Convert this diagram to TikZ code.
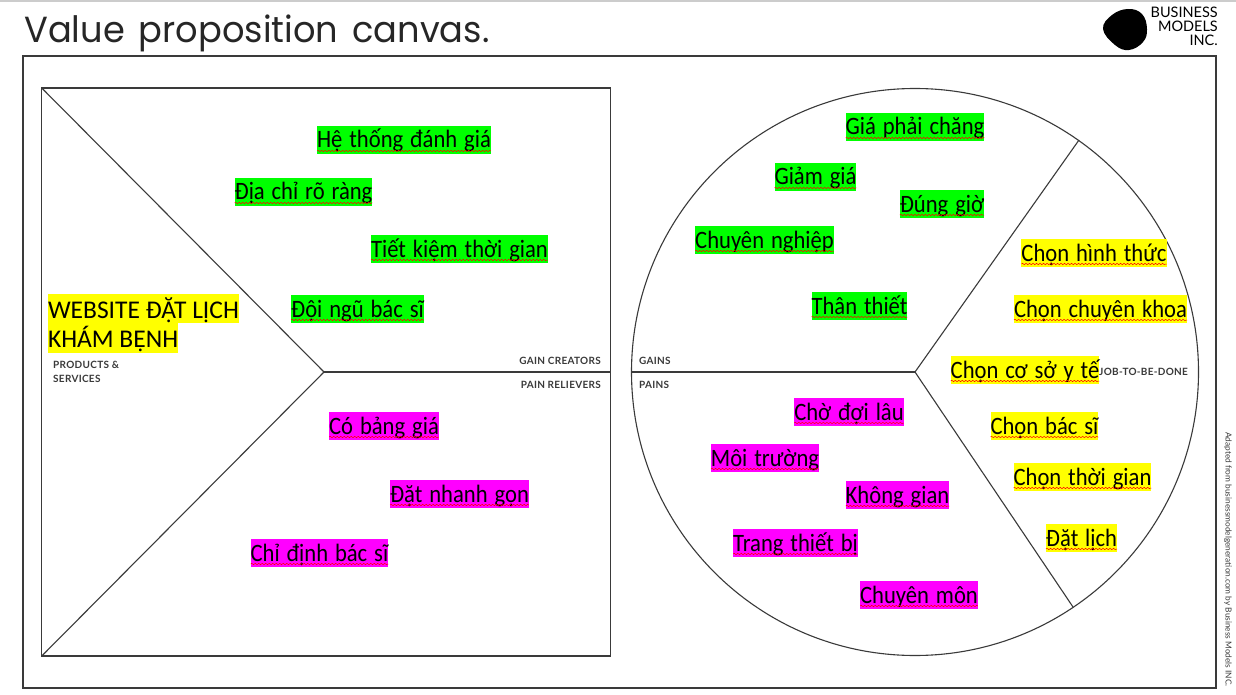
\documentclass[tikz,border=0pt]{standalone}
\usepackage{fontspec}
\setmainfont[FakeStretch=0.905,WordSpace=1.35]{Carlito}
\newfontfamily\bigfont{Carlito}
\newfontfamily\titlefont[FakeStretch=0.97,WordSpace=1.5]{Poppins}
\newfontfamily\labelfont[LetterSpace=3]{Lato}
\newfontfamily\logofont{Lato}
\usetikzlibrary{decorations.pathmorphing}
\definecolor{inkgray}{HTML}{3A3A3A}
\definecolor{painpink}{HTML}{FF00FF}
\definecolor{jobyellow}{HTML}{FFFF00}
\definecolor{gaingreen}{HTML}{00FF00}
\tikzset{
  tag/.style={inner xsep=0pt,inner ysep=0pt,outer sep=0pt,text=black,
    font=\fontsize{25}{25}\selectfont,minimum height=28pt,text height=19.5pt,text depth=3.5pt},
  gaintag/.style={tag,fill=gaingreen},
  paintag/.style={tag,fill=painpink},
  jobtag/.style={tag,fill=jobyellow},
  webtag/.style={inner xsep=0pt,inner ysep=0pt,outer sep=0pt,text=black,fill=jobyellow,anchor=west,
    font=\bigfont\fontsize{25.5}{26}\selectfont,minimum height=29.5pt,text height=23.5pt,text depth=4.5pt},
  caption/.style={inner sep=0pt,text=inkgray,font=\labelfont\bfseries\fontsize{10}{14}\selectfont},
  frameline/.style={draw=inkgray,line width=1.1pt,inner sep=0pt,outer sep=0pt},
  squiggle/.style={draw=red,line width=0.5pt,decorate,
    decoration={snake,amplitude=0.7pt,segment length=3.5pt}}
}
\begin{document}
\begin{tikzpicture}[x=1pt,y=-1pt]
  \useasboundingbox (0,0) rectangle (1236,695);
  \fill[white] (0,0) rectangle (1236,695);
  \fill[black!20] (0,0) rectangle (1236,2);

  % header
  \node[anchor=base west,inner sep=0pt,text=black!85,font=\titlefont\fontsize{36.3}{36}\selectfont] (title) at (24,43) {Value proposition canvas.};
  \fill[black] plot[smooth cycle,tension=0.7] coordinates {(1103,29) (1112,15) (1128,9) (1142,14) (1147,29) (1143,42) (1129,50) (1115,45)};
  \node[anchor=north east,align=right,inner sep=0pt,font=\logofont\fontsize{14.5}{14}\selectfont] (logo) at (1218,7) {BUSINESS\\MODELS\\INC.};
  \node[rotate=-90,anchor=north west,inner sep=0pt,text=inkgray,font=\logofont\fontsize{8.3}{8}\selectfont] (credit) at (1232,432) {Adapted from businessmodelgeneration.com by Business Models INC.};

  % frames
  \node[frameline,minimum width=1193pt,minimum height=632pt] (outer) at (619.5,372) {};
  \node[frameline,minimum width=568.5pt,minimum height=568pt] (square) at (326,372) {};
  \node[frameline,circle,minimum size=567pt] (circ) at (915,372) {};
  \coordinate (hubL) at (324,372);
  \coordinate (hubR) at (915,372);
  \coordinate (armUp) at (1079,140);
  \coordinate (armDown) at (1073,607);

  % arms
  \draw[inkgray,line width=1.1pt] (square.north west) -- (hubL) -- (square.south west);
  \draw[inkgray,line width=1.1pt] (hubL) -- (square.east);
  \draw[inkgray,line width=1.1pt] (armUp) -- (hubR) -- (armDown);
  \draw[inkgray,line width=1.1pt] (hubR) -- (circ.west);

  % captions
  \node[caption,anchor=west,align=left] (products) at (53,372) {PRODUCTS \&\\SERVICES};
  \node[caption,anchor=east] (creators) at (601,361) {GAIN CREATORS};
  \node[caption,anchor=east] (relievers) at (601,385) {PAIN RELIEVERS};
  \node[caption,anchor=west] (gains) at (639,361) {GAINS};
  \node[caption,anchor=west] (pains) at (639,385) {PAINS};

  % product
  \node[webtag] (web1) at (48,308.5) {WEBSITE ĐẶT LỊCH};
  \node[webtag] (web2) at (48,338) {KHÁM BỆNH};

  % gain creators
  \node[gaintag] (g1) at (404,140) {Hệ thống đánh giá};
  \node[gaintag] (g2) at (303.5,192) {Địa chỉ rõ ràng};
  \node[gaintag] (g3) at (459.5,249) {Tiết kiệm thời gian};
  \node[gaintag] (g4) at (357.5,309) {Đội ngũ bác sĩ};

  % pain relievers
  \node[paintag] (r1) at (384,426) {Có bảng giá};
  \node[paintag] (r2) at (459.5,494) {Đặt nhanh gọn};
  \node[paintag] (r3) at (319.5,553) {Chỉ định bác sĩ};

  % gains
  \node[gaintag] (g5) at (915,127) {Giá phải chăng};
  \node[gaintag] (g6) at (815.5,177) {Giảm giá};
  \node[gaintag] (g7) at (942,204) {Đúng giờ};
  \node[gaintag] (g8) at (764.5,240) {Chuyên nghiệp};
  \node[gaintag] (g9) at (859.5,306) {Thân thiết};

  % pains
  \node[paintag] (p1) at (849,412) {Chờ đợi lâu};
  \node[paintag] (p2) at (765,458) {Môi trường};
  \node[paintag] (p3) at (897.5,495) {Không gian};
  \node[paintag] (p4) at (795.5,543) {Trang thiết bị};
  \node[paintag] (p5) at (919,595) {Chuyên môn};

  % jobs
  \node[jobtag] (j1) at (1094,253) {Chọn hình thức};
  \node[jobtag] (j2) at (1100.5,309) {Chọn chuyên khoa};
  \node[jobtag] (j3) at (1025,370) {Chọn cơ sở y tế};
  \node[jobtag] (j4) at (1044.5,426) {Chọn bác sĩ};
  \node[jobtag] (j5) at (1082.5,477) {Chọn thời gian};
  \node[jobtag] (j6) at (1081.5,538) {Đặt lịch};
  \node[caption,anchor=west] (job) at (1099,372) {JOB-TO-BE-DONE};

  % spell check marks
  \foreach \n in {g1,g2,g3,g4,g5,g6,g7,g8,g9,r1,r2,r3,p1,p2,p3,p4,p5,j1,j2,j3,j4,j5,j6}
    \draw[squiggle] ([yshift=3pt]\n.south west) -- ([yshift=3pt]\n.south east);
\end{tikzpicture}
\end{document}
